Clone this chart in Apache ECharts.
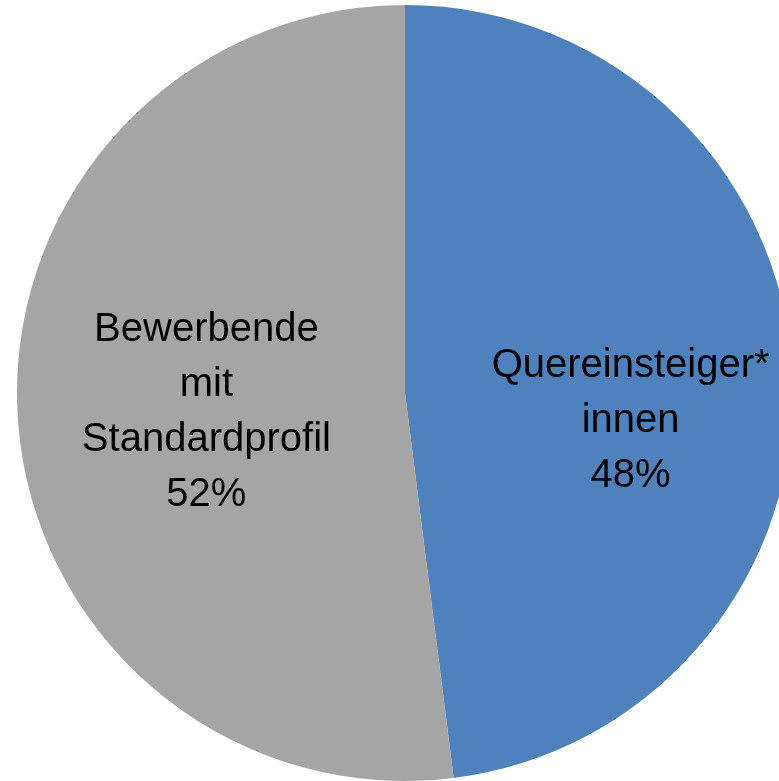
<!DOCTYPE html>
<html>
<head>
<meta charset="utf-8">
<script src="https://cdn.jsdelivr.net/npm/echarts@6/dist/echarts.min.js"></script>
<style>
  html, body { margin: 0; padding: 0; background: #fff; }
  #chart { width: 779px; height: 781px; }
</style>
</head>
<body>
<div id="chart"></div>
<script>
// Anteile der Bewerbenden
const categories = ['Quereinsteiger*\ninnen', 'Bewerbende\nmit\nStandardprofil'];
const shares = [48, 52];
const sliceColors = ['#4F81BD', '#A5A5A5'];

// Verschiebung der Beschriftung gegenüber der Standardposition
const labelShift = [[29, 40], [-2, 7]];

const chart = echarts.init(document.getElementById('chart'));

chart.setOption({
    backgroundColor: '#ffffff',
    animation: false,
    series: [{
        type: 'pie',
        center: [405, 393],
        radius: 388,
        startAngle: 90,
        clockwise: true,
        avoidLabelOverlap: false,
        label: {
            show: true,
            position: 'inside',
            formatter: (p) => p.name + '\n' + p.value + '%',
            color: '#000',
            fontFamily: "'Liberation Sans Narrow', 'Arial Narrow', 'Liberation Sans', sans-serif",
            fontSize: 40,
            lineHeight: 55,
            align: 'center'
        },
        labelLayout: (params) => ({
            dx: labelShift[params.dataIndex][0],
            dy: labelShift[params.dataIndex][1]
        }),
        itemStyle: { borderWidth: 0 },
        emphasis: { disabled: true },
        data: categories.map((name, i) => ({
            name: name,
            value: shares[i],
            itemStyle: { color: sliceColors[i] }
        }))
    }]
});
</script>
</body>
</html>
